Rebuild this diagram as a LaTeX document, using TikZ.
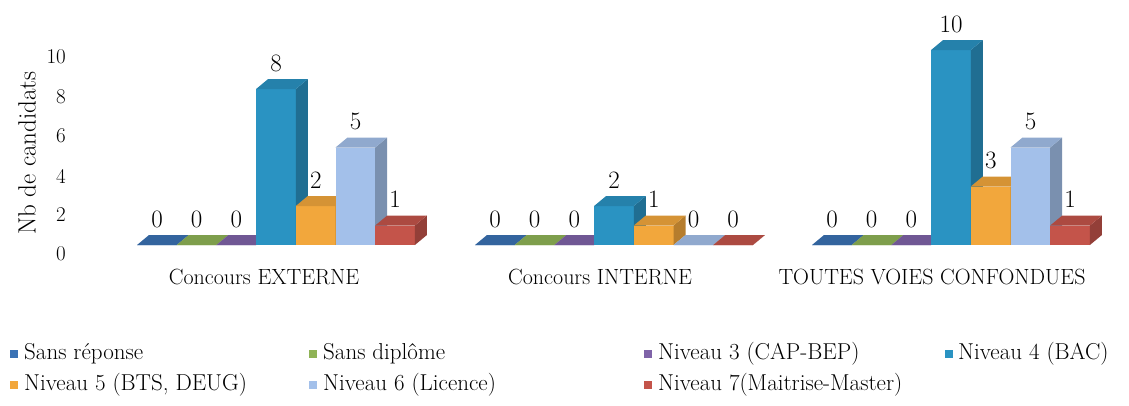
\documentclass[tikz,border=0pt]{standalone}
\usepackage{fontspec}
\definecolor{cSR}{HTML}{3A72B4}
\definecolor{cSD}{HTML}{8FB356}
\definecolor{cNt}{HTML}{7F63A8}
\definecolor{cNq}{HTML}{2A93C2}
\definecolor{cNc}{HTML}{F2A73C}
\definecolor{cNs}{HTML}{A3C0EA}
\definecolor{cNp}{HTML}{C4544A}
\tikzset{
  vlab/.style={font=\fontsize{25}{28}\selectfont, inner sep=0pt},
  ticklab/.style={font=\fontsize{21}{24}\selectfont, inner sep=0pt, anchor=east},
  grouplab/.style={font=\fontsize{22}{26}\selectfont, inner sep=0pt},
  leglab/.style={font=\fontsize{23}{26}\selectfont, inner sep=0pt, anchor=west},
  legmark/.style={minimum size=8pt, inner sep=0pt, fill=#1},
}
\newcommand\tdbar[4]{% #1 name, #2 left x, #3 value, #4 colour
  \pgfmathsetmacro\bh{#3*19.5}
  \fill[#4] (#2,245) rectangle ({#2+39.7},{245-\bh});
  \fill[#4!75!black] ({#2+39.7},245) -- ({#2+51.7},235) -- ({#2+51.7},{235-\bh}) -- ({#2+39.7},{245-\bh}) -- cycle;
  \fill[#4!88!black] (#2,{245-\bh}) -- ({#2+12},{235-\bh}) -- ({#2+51.7},{235-\bh}) -- ({#2+39.7},{245-\bh}) -- cycle;
  \node[vlab] (#1) at ({#2+20},{245-\bh-26}) {#3};
}
\newcommand\tdgroup[9]{% #1 prefix, #2 start x, #3..#9 values
  \tdbar{#1a}{#2}{#3}{cSR}
  \tdbar{#1b}{#2+39.7}{#4}{cSD}
  \tdbar{#1c}{#2+79.4}{#5}{cNt}
  \tdbar{#1d}{#2+119.1}{#6}{cNq}
  \tdbar{#1e}{#2+158.8}{#7}{cNc}
  \tdbar{#1f}{#2+198.5}{#8}{cNs}
  \tdbar{#1g}{#2+238.2}{#9}{cNp}
}
\begin{document}
\begin{tikzpicture}[x=1pt,y=-1pt]
\useasboundingbox (0,0) rectangle (1129,405);
% axis
\node[rotate=90, font=\fontsize{25}{28}\selectfont, inner sep=0pt] (ytitle) at (27,153) {Nb de candidats};
\node[ticklab] (t10) at (66,57) {10};
\node[ticklab] (t8) at (66,97) {8};
\node[ticklab] (t6) at (66,136) {6};
\node[ticklab] (t4) at (66,176) {4};
\node[ticklab] (t2) at (66,215) {2};
\node[ticklab] (t0) at (66,254) {0};
% groups
\tdgroup{ext}{137}{0}{0}{0}{8}{2}{5}{1}
\tdgroup{int}{475}{0}{0}{0}{2}{1}{0}{0}
\tdgroup{tot}{812}{0}{0}{0}{10}{3}{5}{1}
\node[grouplab] (gext) at (264,277) {Concours EXTERNE};
\node[grouplab] (gint) at (600,277) {Concours INTERNE};
\node[grouplab] (gtot) at (932,277) {TOUTES VOIES CONFONDUES};
% legend
\node[legmark=cSR] (m1) at (14,354) {};
\node[leglab] (l1) at (24,354) {Sans réponse};
\node[legmark=cSD] (m2) at (313,354) {};
\node[leglab] (l2) at (323,354) {Sans diplôme};
\node[legmark=cNt] (m3) at (648,354) {};
\node[leglab] (l3) at (658,354) {Niveau 3 (CAP-BEP)};
\node[legmark=cNq] (m4) at (949,354) {};
\node[leglab] (l4) at (958,354) {Niveau 4 (BAC)};
\node[legmark=cNc] (m5) at (14,385) {};
\node[leglab] (l5) at (24,385) {Niveau 5 (BTS, DEUG)};
\node[legmark=cNs] (m6) at (313,385) {};
\node[leglab] (l6) at (323,385) {Niveau 6 (Licence)};
\node[legmark=cNp] (m7) at (648,385) {};
\node[leglab] (l7) at (658,385) {Niveau 7(Maitrise-Master)};
\end{tikzpicture}
\end{document}
